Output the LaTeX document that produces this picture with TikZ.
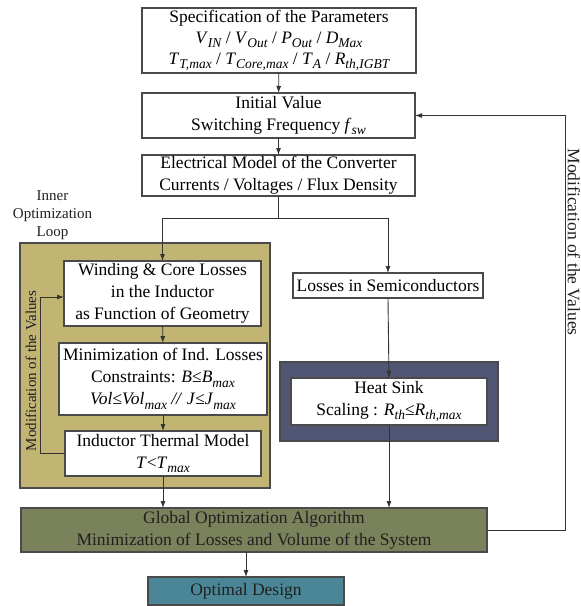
\documentclass[tikz,border=0pt]{standalone}
\usepackage{fontspec}
\setmainfont{Liberation Serif}
\usetikzlibrary{arrows.meta}

% italic variable with a large, lowered italic subscript
\newcommand\vsub[2]{\textit{#1}\raisebox{-4.5pt}{\fontsize{13.5}{13.5}\selectfont\itshape #2}}

\definecolor{boxline}{HTML}{4A4A4A}
\definecolor{wireline}{HTML}{333333}
\definecolor{olivebg}{HTML}{C2B574}
\definecolor{globalbg}{HTML}{7A825C}
\definecolor{sinkbg}{HTML}{505673}
\definecolor{designbg}{HTML}{4A8696}
\definecolor{darktext}{HTML}{202020}

\begin{document}
\begin{tikzpicture}[x=1pt,y=-1pt,
  mainfont/.style={font=\fontsize{17.5}{22}\selectfont},
  smallfont/.style={font=\fontsize{15}{18}\selectfont},
  stepbox/.style={draw=boxline,line width=1.1pt,fill=white,align=center,
    inner sep=0pt,outer sep=0pt,mainfont,text=black},
  colorbox/.style={draw=boxline,line width=1.1pt,align=center,
    inner sep=0pt,outer sep=0pt,mainfont,text=darktext},
  wire/.style={draw=wireline,line width=0.9pt},
  flow/.style={wire,-{Latex[length=7pt,width=5pt]}}]

\useasboundingbox (0,0) rectangle (581,606);

% inner optimization loop background
\node[colorbox,fill=olivebg,minimum width=250pt,minimum height=245pt]
  (inner) at (145,365.5) {};
\node[smallfont,align=center,text=darktext] (innerlabel) at (52.5,215)
  {Inner\\Optimization\\Loop};

% heat sink background
\node[colorbox,fill=sinkbg,minimum width=218pt,minimum height=79pt]
  (sinkbg) at (389,401.5) {};

% main chain
\node[stepbox,minimum width=274pt,minimum height=65pt] (spec) at (279,40.5)
  {Specification of the Parameters\\[-1pt]
   \vsub{V}{IN} / \vsub{V}{Out} / \vsub{P}{Out} / \vsub{D}{Max}\\[-1pt]
   \vsub{T}{T,max} / \vsub{T}{Core,max} / \vsub{T}{A} / \vsub{R}{th,IGBT}\rule[-5pt]{0pt}{1pt}};
\node[stepbox,minimum width=273pt,minimum height=45pt] (init) at (278.5,115.5)
  {Initial Value\\Switching Frequency \vsub{f}{sw}};
\node[stepbox,minimum width=273pt,minimum height=41pt] (elec) at (278.5,175.5)
  {Electrical Model of the Converter\\Currents / Voltages / Flux Density};

% inductor design
\node[stepbox,minimum width=197pt,minimum height=65pt] (winding) at (162.5,293.5)
  {Winding \& Core Losses\\in the Inductor\\as Function of Geometry};
\node[stepbox,minimum width=208pt,minimum height=72pt] (minind) at (163,379)
  {Minimization of Ind. Losses\\
   Constraints: \textit{B}≤\vsub{B}{max}\\
   \textit{Vol}≤\vsub{Vol}{max} \textit{//} \textit{J}≤\vsub{J}{max}};
\node[stepbox,minimum width=196pt,minimum height=45pt] (thermal) at (163,453.5)
  {Inductor Thermal Model\\\textit{T}<\vsub{T}{max}};

% semiconductor branch
\node[stepbox,minimum width=190pt,minimum height=25pt] (semi) at (388,285.5)
  {Losses in Semiconductors};
\node[stepbox,minimum width=196pt,minimum height=47pt] (sink) at (389,401.5)
  {Heat Sink\\Scaling : \vsub{R}{th}≤\vsub{R}{th,max}};

% global optimization and result
\node[colorbox,fill=globalbg,minimum width=466pt,minimum height=44pt] (global) at (254,530)
  {Global Optimization Algorithm\\Minimization of Losses and Volume of the System};
\node[colorbox,fill=designbg,minimum width=196pt,minimum height=28pt] (design) at (246,591)
  {Optimal Design};

% connectors
\coordinate (split) at (278.5,218);
\coordinate (outer) at (565,115.5);
\coordinate (fb) at (40,297);

\draw[flow] (spec) -- (init);
\draw[flow] (init) -- (elec);
\draw[wire] (elec.south) -- (split);
\draw[flow] (split) -| (winding.north);
\draw[flow] (split) -| (semi.north);
\draw[flow] (winding) -- (minind);
\draw[flow] (minind) -- (thermal);
\draw[flow] (thermal.west) -| (fb) -- (fb -| winding.west);
\draw[flow] (thermal.south) -- (thermal.south |- global.north);
\draw[flow] (semi.south) -- (sink.north);
\draw[flow] (sink.south) -- (sink.south |- global.north);
\draw[flow] (design.north |- global.south) -- (design.north);
\draw[flow] (global.east) -| (outer) -- (init.east);

% loop labels
\node[smallfont,rotate=90,text=darktext] (innermod) at (31,371)
  {Modification of the Values};
\node[mainfont,rotate=-90,text=darktext] (outermod) at (574,242)
  {Modification of the Values};
\end{tikzpicture}
\end{document}
